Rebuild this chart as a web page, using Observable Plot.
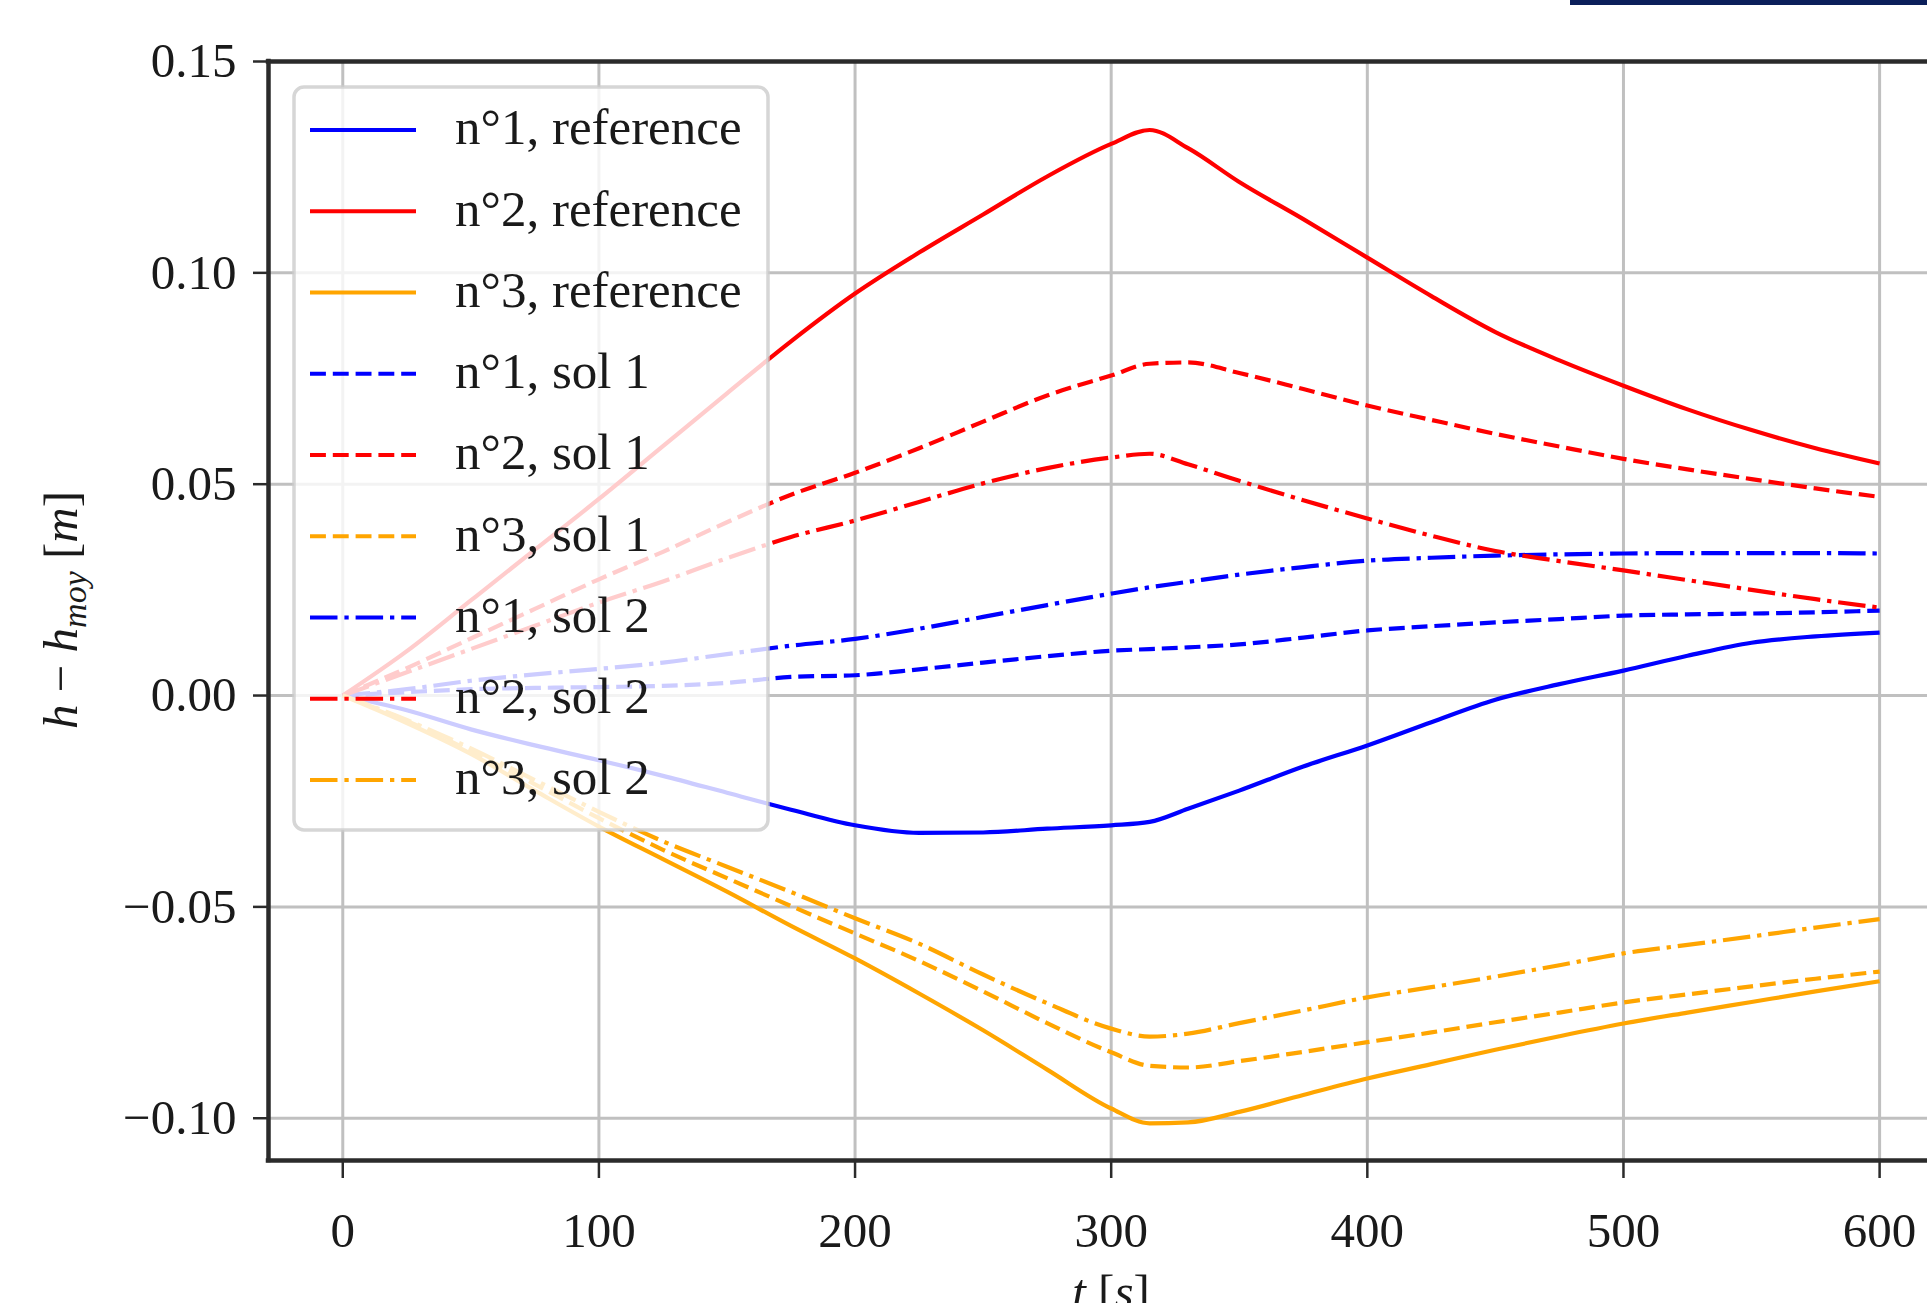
<!DOCTYPE html>
<html><head><meta charset="utf-8">
<script src="https://cdn.jsdelivr.net/npm/d3@7"></script>
<script src="https://cdn.jsdelivr.net/npm/@observablehq/plot@0.6"></script>
<style>
html,body{margin:0;padding:0;background:#fff;overflow:hidden;}
#wrap{position:relative;width:1927px;height:1303px;overflow:hidden;}
#chart svg{display:block;}
#bar{position:absolute;left:1570px;top:0;width:357px;height:5px;background:#0b1f5a;}
</style></head><body>
<div id="wrap"><div id="chart"></div><div id="bar"></div></div>
<script>
// time samples [s]
const T = [0,25,50,75,100,125,150,175,200,225,250,275,300,315,330,350,375,400,425,450,475,500,525,550,575,600];

// h - h_moy [m]
const n1Reference = [0,-0.0035,-0.0080,-0.0118,-0.0153,-0.0190,-0.0230,-0.0270,-0.0307,-0.0325,-0.0324,-0.0315,-0.0307,-0.0299,-0.0268,-0.0225,-0.0168,-0.0118,-0.0063,-0.0010,0.0027,0.0059,0.0094,0.0125,0.0140,0.0149];
const n2Reference = [0,0.0105,0.0225,0.0345,0.0465,0.0590,0.0715,0.0838,0.0951,0.1048,0.1138,0.1228,0.1305,0.1338,0.1295,0.1215,0.1127,0.1036,0.0945,0.0860,0.0793,0.0733,0.0677,0.0628,0.0585,0.0549];
const n3Reference = [0,-0.0065,-0.0138,-0.0225,-0.0310,-0.0387,-0.0464,-0.0545,-0.0622,-0.0705,-0.0792,-0.0885,-0.0977,-0.1012,-0.1010,-0.0985,-0.0945,-0.0906,-0.0872,-0.0838,-0.0806,-0.0776,-0.0750,-0.0725,-0.0700,-0.0676];
const n1Sol1 = [0,0.0008,0.0015,0.0018,0.0020,0.0023,0.0030,0.0044,0.0048,0.0062,0.0078,0.0093,0.0106,0.0110,0.0114,0.0121,0.0137,0.0154,0.0164,0.0173,0.0181,0.0189,0.0192,0.0194,0.0197,0.0201];
const n2Sol1 = [0,0.0065,0.0135,0.0205,0.0275,0.0340,0.0410,0.0475,0.0527,0.0585,0.0648,0.0710,0.0757,0.0785,0.0788,0.0763,0.0725,0.0686,0.0652,0.0619,0.0589,0.0560,0.0535,0.0512,0.0490,0.0470];
const n3Sol1 = [0,-0.0060,-0.0132,-0.0210,-0.0290,-0.0365,-0.0432,-0.0498,-0.0563,-0.0628,-0.0700,-0.0775,-0.0844,-0.0876,-0.0880,-0.0865,-0.0843,-0.0820,-0.0797,-0.0773,-0.0750,-0.0726,-0.0707,-0.0688,-0.0670,-0.0653];
const n1Sol2 = [0,0.0015,0.0035,0.0050,0.0063,0.0078,0.0098,0.0118,0.0134,0.0158,0.0186,0.0214,0.0241,0.0256,0.0269,0.0286,0.0304,0.0319,0.0326,0.0331,0.0334,0.0336,0.0337,0.0337,0.0337,0.0336];
const n2Sol2 = [0,0.0055,0.0110,0.0165,0.0220,0.0270,0.0325,0.0375,0.0414,0.0458,0.0502,0.0538,0.0563,0.0572,0.0547,0.0508,0.0462,0.0419,0.0378,0.0342,0.0318,0.0296,0.0273,0.0250,0.0228,0.0208];
const n3Sol2 = [0,-0.0058,-0.0125,-0.0200,-0.0275,-0.0345,-0.0405,-0.0465,-0.0527,-0.0587,-0.0660,-0.0728,-0.0788,-0.0807,-0.0800,-0.0775,-0.0745,-0.0714,-0.0690,-0.0665,-0.0638,-0.0610,-0.0590,-0.0570,-0.0549,-0.0529];

const labels = ["n°1, reference","n°2, reference","n°3, reference","n°1, sol 1","n°2, sol 1","n°3, sol 1","n°1, sol 2","n°2, sol 2","n°3, sol 2"];
const valuesList = [n1Reference,n2Reference,n3Reference,n1Sol1,n2Sol1,n3Sol1,n1Sol2,n2Sol2,n3Sol2];
const colors = ["#0000ff","#ff0000","#ffa500","#0000ff","#ff0000","#ffa500","#0000ff","#ff0000","#ffa500"];
const styles = ["solid","solid","solid","dashed","dashed","dashed","dashdot","dashdot","dashdot"];

const xTicks = [0,100,200,300,400,500,600];
const yTicks = [-0.10,-0.05,0.00,0.05,0.10,0.15];
const xDomain = [-29, 618.7];
const yDomain = [-0.11, 0.15];

const dashFor = {solid: null, dashed: "15.9 6.9", dashdot: "27.5 6.9 4.3 6.9"};
const LW = 4.2;
const FRAME = "#2b2b2b";
const GRID = "#c0c0c0";
const FONT = "'Liberation Serif', 'DejaVu Serif', serif";

const series = labels.map((label, k) => ({
  label, color: colors[k], style: styles[k],
  rows: T.map((t, i) => ({t, v: valuesList[k][i]}))
}));

const marks = [
  Plot.gridX(xTicks, {stroke: GRID, strokeOpacity: 1, strokeWidth: 3}),
  Plot.gridY(yTicks, {stroke: GRID, strokeOpacity: 1, strokeWidth: 3}),
  ...series.map(s => Plot.line(s.rows, {
    x: "t", y: "v", stroke: s.color, strokeWidth: LW, curve: "monotone-x",
    strokeDasharray: dashFor[s.style] ?? undefined,
    strokeLinecap: "butt", strokeLinejoin: "round"
  })),
  Plot.ruleY([yDomain[1]], {stroke: FRAME, strokeWidth: 4.5, strokeLinecap: "square"}),
  Plot.ruleY([yDomain[0]], {stroke: FRAME, strokeWidth: 4.5, strokeLinecap: "square"}),
  Plot.ruleX([xDomain[0]], {stroke: FRAME, strokeWidth: 4.5, strokeLinecap: "square"}),
  Plot.axisX(xTicks, {label: null, tickSize: 18, tickPadding: 34, fontSize: 49,
    stroke: FRAME, strokeWidth: 2.5, fill: "#1a1a1a", tickFormat: d => String(d)}),
  Plot.axisY(yTicks, {label: null, tickSize: 15, tickPadding: 17, fontSize: 49,
    stroke: FRAME, strokeWidth: 2.5, fill: "#1a1a1a", tickFormat: d3.format(".2f")})
];

const svgNode = Plot.plot({
  width: 1927, height: 1303,
  marginLeft: 268, marginRight: 0, marginTop: 61, marginBottom: 143,
  x: {domain: xDomain},
  y: {domain: yDomain},
  style: {fontFamily: FONT, background: "white", color: "#1a1a1a"},
  marks
});
document.getElementById("chart").appendChild(svgNode);

const svg = d3.select(svgNode);

// axis labels
const yl = svg.append("text")
  .attr("transform", "translate(77,610) rotate(-90)")
  .attr("text-anchor", "middle")
  .attr("font-family", FONT)
  .attr("font-size", 49)
  .attr("fill", "#1a1a1a");
yl.append("tspan").attr("font-style", "italic").text("h");
yl.append("tspan").text(" − ");
yl.append("tspan").attr("font-style", "italic").text("h");
yl.append("tspan").attr("font-style", "italic").attr("font-size", 34).attr("dy", 9).text("moy");
yl.append("tspan").attr("dy", -9).text(" [");
yl.append("tspan").attr("font-style", "italic").text("m");
yl.append("tspan").text("]");

const xl = svg.append("text")
  .attr("x", 1111).attr("y", 1308)
  .attr("text-anchor", "middle")
  .attr("font-family", FONT)
  .attr("font-size", 49)
  .attr("fill", "#1a1a1a");
xl.append("tspan").attr("font-style", "italic").text("t");
xl.append("tspan").text(" [");
xl.append("tspan").attr("font-style", "italic").text("s");
xl.append("tspan").text("]");

// legend
const lg = svg.append("g").attr("text-anchor", "start");
lg.append("rect")
  .attr("x", 294).attr("y", 87).attr("width", 474).attr("height", 743)
  .attr("rx", 10).attr("ry", 10)
  .attr("fill", "white").attr("fill-opacity", 0.8)
  .attr("stroke", "#cccccc").attr("stroke-opacity", 0.8).attr("stroke-width", 3.5);
series.forEach((s, i) => {
  const yy = 130 + i * 81.25;
  lg.append("line")
    .attr("x1", 310).attr("x2", 416).attr("y1", yy).attr("y2", yy)
    .attr("stroke", s.color).attr("stroke-width", LW)
    .attr("stroke-dasharray", dashFor[s.style])
    .attr("stroke-linecap", "butt");
  lg.append("text")
    .attr("x", 455).attr("y", yy + 14.3)
    .attr("text-anchor", "start")
    .attr("font-family", FONT)
    .attr("font-size", 51)
    .attr("fill", "#1a1a1a")
    .text(s.label);
});
</script>
</body></html>
